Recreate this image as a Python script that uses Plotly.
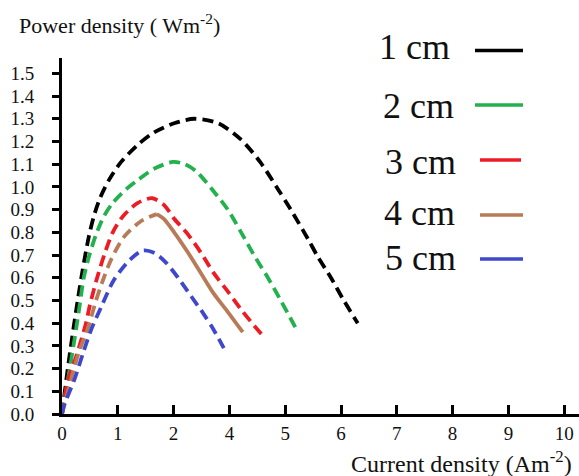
import plotly.graph_objects as go

# ---------------- data (x in axis-position units; tick labels below) ----------------
x_tick_positions = [0, 1, 2, 3, 4, 5, 6, 7, 8, 9]
x_tick_labels = ["0", "1", "2", "4", "5", "6", "7", "8", "9", "10"]

series_names = ["1 cm", "2 cm", "3 cm", "4 cm", "5 cm"]

cm1_x = [0, 0.12, 0.25, 0.36, 0.48, 0.57, 0.68, 0.84, 1.06, 1.38, 1.65, 2.01, 2.37, 2.80, 3.20, 3.55, 3.87, 4.10, 4.41, 4.59, 4.82, 5.05, 5.30]
cm1_y = [0, 0.23, 0.45, 0.62, 0.78, 0.87, 0.95, 1.03, 1.11, 1.19, 1.24, 1.28, 1.30, 1.28, 1.21, 1.11, 0.99, 0.90, 0.77, 0.69, 0.60, 0.50, 0.40]

cm2_x = [0, 0.16, 0.30, 0.39, 0.48, 0.61, 0.75, 0.91, 1.15, 1.36, 1.65, 1.99, 2.20, 2.40, 2.72, 2.97, 3.21, 3.44, 3.69, 3.92, 4.23]
cm2_y = [0, 0.23, 0.45, 0.60, 0.69, 0.79, 0.87, 0.93, 0.99, 1.03, 1.08, 1.11, 1.10, 1.07, 0.98, 0.90, 0.80, 0.70, 0.60, 0.50, 0.36]

cm3_x = [0, 0.11, 0.25, 0.43, 0.50, 0.63, 0.77, 0.91, 1.09, 1.36, 1.62, 1.83, 2.01, 2.26, 2.49, 2.72, 2.97, 3.21, 3.51, 3.62]
cm3_y = [0, 0.15, 0.25, 0.40, 0.48, 0.60, 0.71, 0.80, 0.87, 0.93, 0.95, 0.92, 0.86, 0.79, 0.71, 0.62, 0.54, 0.46, 0.37, 0.34]

cm4_dashed_x = [0, 0.16, 0.30, 0.48, 0.61, 0.75, 0.88, 1.11, 1.42, 1.70]
cm4_dashed_y = [0, 0.15, 0.27, 0.39, 0.50, 0.60, 0.68, 0.78, 0.85, 0.88]
cm4_solid_x = [1.70, 1.82, 2.01, 2.26, 2.49, 2.72, 2.97, 3.24]
cm4_solid_y = [0.88, 0.86, 0.80, 0.71, 0.62, 0.53, 0.45, 0.36]

cm5_x = [0, 0.04, 0.22, 0.38, 0.52, 0.70, 0.93, 1.22, 1.45, 1.65, 1.85, 2.08, 2.31, 2.54, 2.72, 2.90]
cm5_y = [0, 0.04, 0.15, 0.27, 0.37, 0.47, 0.59, 0.68, 0.72, 0.71, 0.67, 0.60, 0.52, 0.44, 0.37, 0.29]

colors = ["#000000", "#22b14c", "#ed1c24", "#b97a57", "#3f48cc"]

# ---------------- figure ----------------
W, H = 579, 476
ML, MR, MT, MB = 62, 0, 58, 62
PW, PH = W - ML - MR, H - MT - MB

def px(x):
    return (x - ML) / PW

def py(y):
    return (H - MB - y) / PH

SERIF = "Liberation Serif"
DASH = "11px,6px"
LW = 3.8

fig = go.Figure()

def add(x, y, color, dash):
    fig.add_trace(go.Scatter(
        x=x, y=y, mode="lines",
        line=dict(color=color, width=LW, dash=dash, shape="spline", smoothing=0.8),
        showlegend=False, hoverinfo="skip", cliponaxis=False,
    ))

add(cm1_x, cm1_y, colors[0], DASH)
add(cm2_x, cm2_y, colors[1], DASH)
add(cm3_x, cm3_y, colors[2], DASH)
add(cm4_dashed_x, cm4_dashed_y, colors[3], DASH)
add(cm4_solid_x, cm4_solid_y, colors[3], "solid")
add(cm5_x, cm5_y, colors[4], DASH)

# legend drawn as text + short solid lines (text left, line right)
legend_rows = [
    (377, 47.5, 475, 523, 50.5),
    (381, 106, 475, 523, 105),
    (383, 162, 480, 521, 160),
    (382, 213, 480, 523, 215),
    (383, 258, 480, 523, 259),
]
annotations = []
shapes = []
for name, col, (tx, ty, lx0, lx1, ly) in zip(series_names, colors, legend_rows):
    annotations.append(dict(
        x=px(tx), y=py(ty), xref="paper", yref="paper",
        xanchor="left", yanchor="middle", showarrow=False,
        text=name, font=dict(family=SERIF, size=36, color="#111111"),
    ))
    shapes.append(dict(
        type="line", xref="paper", yref="paper",
        x0=px(lx0), x1=px(lx1), y0=py(ly), y1=py(ly),
        line=dict(color=col, width=3.5),
    ))

annotations.append(dict(
    x=px(17), y=py(24), xref="paper", yref="paper",
    xanchor="left", yanchor="middle", showarrow=False,
    text="Power density ( Wm<sup>-2</sup>)",
    font=dict(family=SERIF, size=22, color="#111111"),
))
annotations.append(dict(
    x=px(574), y=py(462), xref="paper", yref="paper",
    xanchor="right", yanchor="middle", showarrow=False,
    text="Current density (Am<sup>-2</sup>)",
    font=dict(family=SERIF, size=24, color="#111111"),
))

fig.update_layout(
    width=W, height=H,
    margin=dict(l=ML, r=MR, t=MT, b=MB, pad=0),
    paper_bgcolor="white", plot_bgcolor="white",
    font=dict(family=SERIF, color="#111111"),
    showlegend=False,
    annotations=annotations,
    shapes=shapes,
    xaxis=dict(
        range=[0, PW / 55.8],
        tickmode="array", tickvals=x_tick_positions, ticktext=x_tick_labels,
        ticks="inside", ticklen=9, tickwidth=2.5, tickcolor="black",
        showline=True, linewidth=3, linecolor="black",
        showgrid=False, zeroline=False,
        tickfont=dict(family=SERIF, size=19, color="#111111"),
    ),
    yaxis=dict(
        range=[0, PH / 227.1],
        tickmode="linear", tick0=0, dtick=0.1, tickformat=".1f",
        ticks="outside", ticklen=7, tickwidth=2.5, tickcolor="black",
        showline=True, linewidth=3, linecolor="black",
        showgrid=False, zeroline=False,
        ticklabelstandoff=14,
        tickfont=dict(family=SERIF, size=19, color="#111111"),
    ),
)

fig.write_html(
    "out.html",
    config={"displayModeBar": False},
    post_script="document.body.style.margin='0px';document.body.style.overflow='hidden';",
)
